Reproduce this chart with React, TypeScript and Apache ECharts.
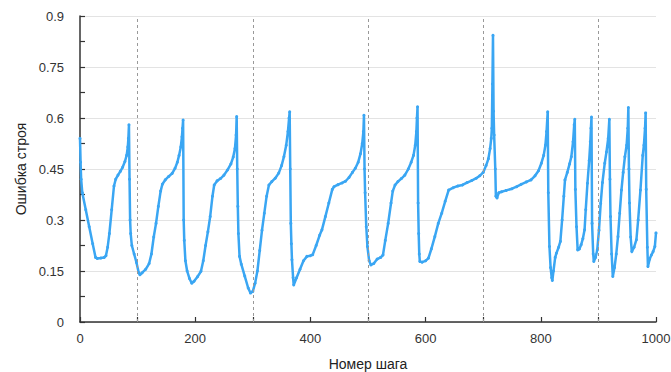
import React, { useEffect, useRef } from "react";
import * as echarts from "echarts";

const xTitle = "Номер шага";
const yTitle = "Ошибка строя";

const steps: number[] = [
  0, 1, 2, 4, 10, 16, 22, 27, 30, 36, 42, 45, 48, 51, 55, 59, 62, 66, 70, 74, 78, 81, 83, 84, 85,
  86, 87, 88, 90, 94, 98, 102, 104, 108, 114, 120, 124, 128, 132, 136, 140, 143, 148, 154, 160, 165, 169, 172, 175, 177, 178, 179,
  180, 181, 183, 186, 190, 194, 198, 204, 210, 214, 218, 222, 226, 230, 233, 238, 244, 250, 256, 262, 266, 269, 271, 272,
  273, 274, 275, 277, 280, 286, 292, 296, 300, 304, 308, 312, 316, 320, 324, 328, 333, 339, 345, 350, 354, 358, 361, 363, 364,
  365, 366, 367, 368, 370, 371, 376, 382, 388, 394, 400, 404, 410, 416, 420, 426, 432, 438, 441, 448, 455, 461, 467, 473, 478, 483, 487, 490, 492, 493,
  494, 495, 497, 499, 502, 505, 510, 516, 522, 526, 530, 535, 540, 543, 547, 552, 558, 564, 570, 575, 579, 582, 584, 585, 586,
  587, 588, 589, 590, 594, 600, 605, 610, 616, 622, 628, 634, 640, 648, 656, 664, 672, 680, 688, 694, 700, 705, 709, 712, 714, 715, 716, 717, 718, 719, 721, 722, 724, 727, 732, 740, 750, 758, 766, 775, 783, 790, 796, 801, 805, 808, 810, 812,
  813, 815, 817, 819, 820, 822, 825, 827, 831, 834, 837, 840, 842, 846, 850, 853, 856, 858, 859,
  860, 862, 864, 867, 870, 873, 876, 878, 881, 884, 886, 887, 888,
  889, 891, 892, 895, 898, 901, 904, 907, 911, 914, 917, 919,
  920, 921, 923, 925, 928, 931, 934, 937, 940, 943, 946, 949, 951, 952,
  953, 954, 956, 958, 962, 966, 969, 973, 977, 979, 981, 982,
  983, 985, 986, 989, 992, 995, 998, 1000,
];

const errors: number[] = [
  0.54, 0.47, 0.42, 0.38, 0.33, 0.28, 0.23, 0.19, 0.187, 0.188, 0.19, 0.195, 0.22, 0.26, 0.33, 0.4, 0.42, 0.432, 0.443, 0.455, 0.472, 0.49, 0.515, 0.54, 0.58,
  0.42, 0.3, 0.26, 0.225, 0.2, 0.175, 0.145, 0.139, 0.145, 0.155, 0.172, 0.2, 0.25, 0.29, 0.34, 0.385, 0.405, 0.418, 0.428, 0.437, 0.452, 0.47, 0.49, 0.515, 0.545, 0.57, 0.594,
  0.3, 0.24, 0.18, 0.15, 0.128, 0.114, 0.12, 0.133, 0.149, 0.18, 0.225, 0.265, 0.31, 0.37, 0.403, 0.415, 0.422, 0.432, 0.447, 0.465, 0.485, 0.51, 0.55, 0.604,
  0.45, 0.34, 0.26, 0.193, 0.17, 0.135, 0.1, 0.085, 0.09, 0.114, 0.15, 0.21, 0.27, 0.32, 0.37, 0.403, 0.413, 0.423, 0.438, 0.46, 0.486, 0.52, 0.56, 0.6, 0.618,
  0.45, 0.29, 0.23, 0.183, 0.13, 0.109, 0.13, 0.155, 0.18, 0.193, 0.195, 0.198, 0.225, 0.255, 0.271, 0.31, 0.35, 0.39, 0.398, 0.404, 0.409, 0.414, 0.425, 0.44, 0.452, 0.47, 0.495, 0.525, 0.56, 0.608,
  0.45, 0.38, 0.28, 0.222, 0.18, 0.168, 0.172, 0.185, 0.19, 0.197, 0.24, 0.29, 0.35, 0.385, 0.403, 0.413, 0.422, 0.432, 0.45, 0.47, 0.49, 0.52, 0.56, 0.6, 0.633,
  0.35, 0.26, 0.2, 0.178, 0.176, 0.18, 0.188, 0.215, 0.251, 0.29, 0.32, 0.355, 0.388, 0.395, 0.4, 0.403, 0.41, 0.416, 0.423, 0.43, 0.44, 0.46, 0.48, 0.51, 0.54, 0.57, 0.7, 0.843, 0.62, 0.55, 0.45, 0.37, 0.365, 0.38, 0.383, 0.387, 0.392, 0.398, 0.405, 0.412, 0.418, 0.43, 0.445, 0.467, 0.49, 0.52, 0.56, 0.618,
  0.38, 0.222, 0.16, 0.13, 0.122, 0.15, 0.19, 0.202, 0.22, 0.237, 0.3, 0.37, 0.418, 0.44, 0.465, 0.486, 0.53, 0.58, 0.596,
  0.39, 0.28, 0.212, 0.215, 0.227, 0.245, 0.271, 0.33, 0.408, 0.475, 0.53, 0.57, 0.603,
  0.29, 0.2, 0.178, 0.19, 0.212, 0.27, 0.349, 0.41, 0.467, 0.5, 0.54, 0.596,
  0.42, 0.31, 0.2, 0.134, 0.16, 0.2, 0.251, 0.32, 0.388, 0.44, 0.486, 0.52, 0.57, 0.631,
  0.45, 0.35, 0.25, 0.207, 0.22, 0.242, 0.3, 0.388, 0.49, 0.52, 0.57, 0.615,
  0.39, 0.22, 0.163, 0.185, 0.197, 0.207, 0.222, 0.262,
];

const dashedSteps: number[] = [100, 300, 500, 700, 900];

export default function App() {
  const ref = useRef<HTMLDivElement>(null);
  useEffect(() => {
    if (!ref.current) return;
    const chart = echarts.init(ref.current, undefined, { renderer: "svg" });
    const data = steps.map((s, i) => [s, errors[i]]);
    const font = "'Liberation Sans', Arial, sans-serif";
    chart.setOption({
      animation: false,
      grid: { left: 80, right: 15, top: 16, bottom: 50, containLabel: false, outerBoundsMode: "none" },
      xAxis: {
        type: "value",
        min: 0,
        max: 1000,
        interval: 100,
        name: xTitle,
        nameLocation: "middle",
        nameGap: 35,
        nameTextStyle: { color: "#222", fontSize: 14, fontFamily: font },
        axisLine: { show: true, lineStyle: { color: "#333", width: 1.5 } },
        axisTick: { show: true, inside: true, length: 5, lineStyle: { color: "#333", width: 1.2 } },
        axisLabel: {
          color: "#333",
          fontSize: 13,
          fontFamily: font,
          margin: 10,
          formatter: (v: number) => (v % 200 === 0 ? String(v) : ""),
        },
        splitLine: { show: false },
      },
      yAxis: {
        type: "value",
        min: 0,
        max: 0.9,
        interval: 0.15,
        name: yTitle,
        nameLocation: "middle",
        nameGap: 52,
        nameTextStyle: { color: "#222", fontSize: 14, fontFamily: font },
        axisLine: { show: true, lineStyle: { color: "#333", width: 1.5 } },
        axisTick: { show: true, inside: true, length: 5, lineStyle: { color: "#333", width: 1.2 } },
        minorTick: { show: true, splitNumber: 2, length: 5, lineStyle: { color: "#333", width: 1.2 } },
        axisLabel: { color: "#333", fontSize: 13, fontFamily: font, margin: 16 },
        splitLine: { show: true, lineStyle: { color: "#e3e3e3", width: 1 } },
      },
      series: [
        {
          type: "line",
          data,
          showSymbol: true,
          symbol: "circle",
          symbolSize: 3,
          itemStyle: { color: "#3AA6F3" },
          lineStyle: { color: "#3AA6F3", width: 2.5 },
          markLine: {
            silent: true,
            symbol: "none",
            label: { show: false },
            lineStyle: { color: "#999", type: [3, 3], width: 1 },
            data: dashedSteps.map((s) => ({ xAxis: s })),
          },
        },
      ],
    });
    return () => chart.dispose();
  }, []);
  return (
    <div
      ref={ref}
      style={{ position: "absolute", left: 0, top: 0, width: 671, height: 372 }}
    />
  );
}
